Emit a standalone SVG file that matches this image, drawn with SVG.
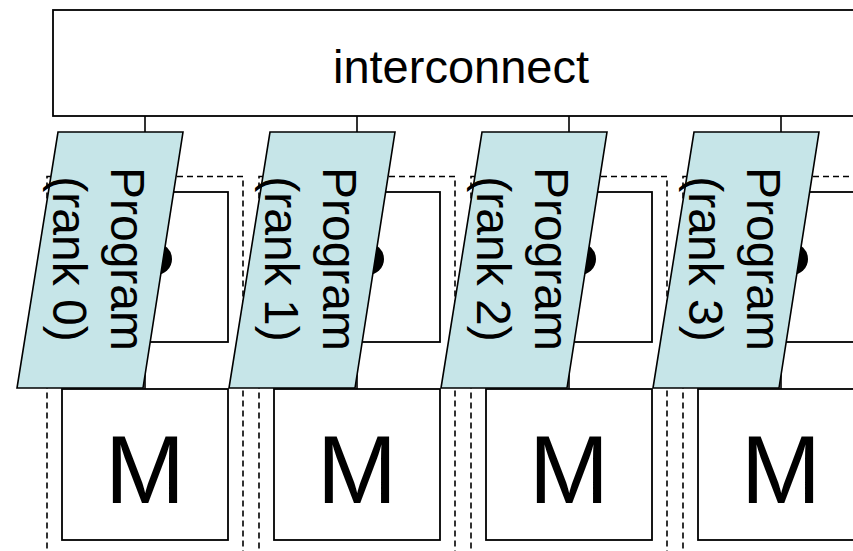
<svg xmlns="http://www.w3.org/2000/svg" width="853" height="551" viewBox="0 0 853 551">
<style>
.box{fill:#fff;stroke:#000;stroke-width:1.8}
.dash{fill:none;stroke:#000;stroke-width:1.6;stroke-dasharray:6 4}
.prog{fill:#C6E5E8;stroke:#000;stroke-width:1.6}
.conn{stroke:#000;stroke-width:1.6;fill:none}
.dot{fill:#000}
.t{font-family:"Liberation Sans",Arial,sans-serif;fill:#000}
.pt{font-size:48px;text-anchor:middle}
.mt{font-size:96px;text-anchor:middle}
</style>
<defs>
<g id="node">
<rect class="dash" x="47" y="176.5" width="196" height="400"/>
<rect class="box" x="62" y="192" width="166" height="150"/>
<circle class="dot" cx="156" cy="259" r="16"/>
<rect class="box" x="62" y="389" width="166" height="151"/>
<text class="t mt" x="145" y="503">M</text>
</g>
<polygon id="para" class="prog" points="58,132 183,132 143,388 17,388"/>
</defs>
<rect width="853" height="551" fill="#fff"/>
<g id="connectors">
<path class="conn" d="M145,116V192M145,342V389M357,116V192M357,342V389M569,116V192M569,342V389M781,116V192M781,342V389"/>
</g>
<g id="interconnect">
<rect class="box" x="53" y="10" width="820" height="106"/>
<text class="t" x="461" y="83" font-size="47" text-anchor="middle">interconnect</text>
</g>
<g id="node0">
<use href="#node"/>
<use href="#para"/>
<g transform="translate(110.6,259) rotate(90)"><text class="t pt" x="0" y="0">Program</text><text class="t pt" x="0" y="58">(rank 0)</text></g>
</g>
<g id="node1" transform="translate(212,0)">
<use href="#node"/>
<use href="#para"/>
<g transform="translate(110.6,259) rotate(90)"><text class="t pt" x="0" y="0">Program</text><text class="t pt" x="0" y="58">(rank 1)</text></g>
</g>
<g id="node2" transform="translate(424,0)">
<use href="#node"/>
<use href="#para"/>
<g transform="translate(110.6,259) rotate(90)"><text class="t pt" x="0" y="0">Program</text><text class="t pt" x="0" y="58">(rank 2)</text></g>
</g>
<g id="node3" transform="translate(636,0)">
<use href="#node"/>
<use href="#para"/>
<g transform="translate(110.6,259) rotate(90)"><text class="t pt" x="0" y="0">Program</text><text class="t pt" x="0" y="58">(rank 3)</text></g>
</g>
</svg>
